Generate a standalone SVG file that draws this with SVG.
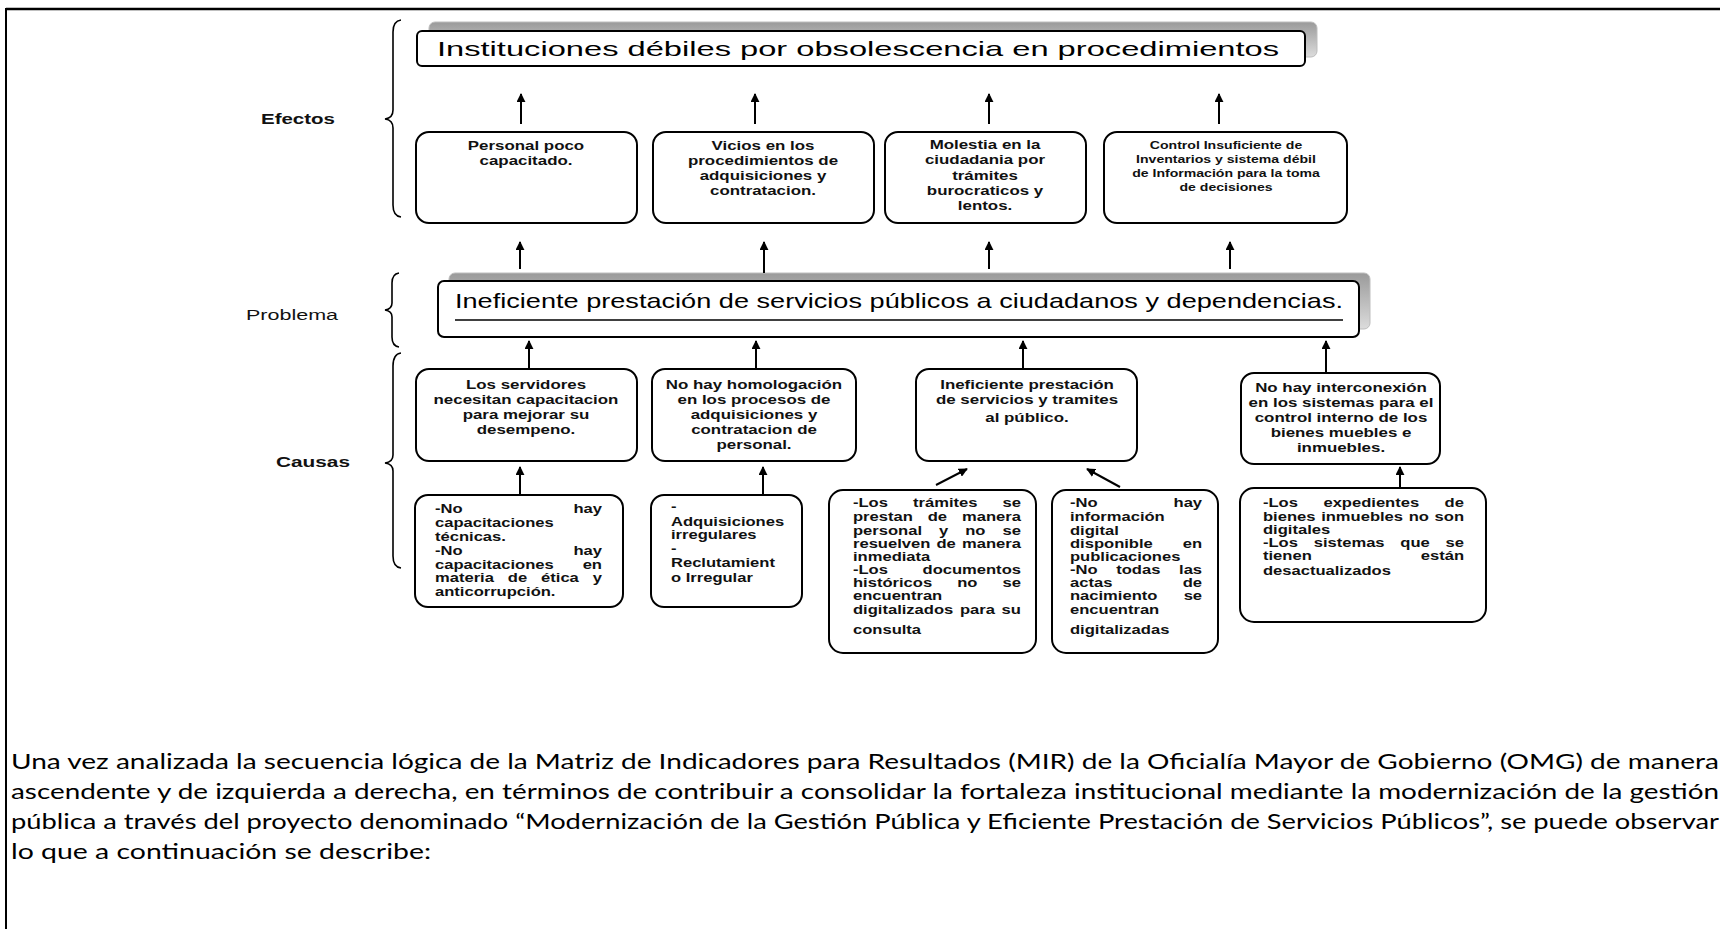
<svg xmlns="http://www.w3.org/2000/svg" width="1720" height="929" viewBox="0 0 1720 929">
<defs>
<marker id="ah" viewBox="0 0 10 10" markerUnits="userSpaceOnUse" markerWidth="9" markerHeight="9" refX="9" refY="5" orient="auto">
<path d="M0,0 L10,5 L0,10 z" fill="#000"/>
</marker>
<linearGradient id="sh" x1="0" y1="0" x2="0" y2="1">
<stop offset="0" stop-color="#9a9a9a"/>
<stop offset="1" stop-color="#dcdcdc"/>
</linearGradient>
<style>
.box{fill:#fff;stroke:#000;stroke-width:2}
.shadow{fill:url(#sh);stroke:#bdbdbd;stroke-width:1}
.con line{stroke:#000;stroke-width:2;marker-end:url(#ah)}
.brace{fill:none;stroke:#000;stroke-width:1.6}
.lbl{font-family:"Liberation Sans",Arial,sans-serif;font-size:15.5px;fill:#111}
.big{font-family:"Liberation Sans",Arial,sans-serif;font-size:21px;fill:#000}
.t{font-family:"Liberation Sans",Arial,sans-serif;font-weight:bold;font-size:13px;fill:#111;text-anchor:middle}
.ts{font-family:"Liberation Sans",Arial,sans-serif;font-weight:bold;font-size:11px;fill:#111;text-anchor:middle}
.j{font-family:"Liberation Sans",Arial,sans-serif;font-weight:bold;font-size:12px;fill:#111}
.e{text-anchor:end}
.p{font-family:Lato,"Open Sans",sans-serif;font-size:21px;fill:#000}
</style>
</defs>
<rect x="0" y="0" width="1720" height="929" fill="#fff"/>
<g id="frame">
<line x1="6" y1="9" x2="1720" y2="9" stroke="#000" stroke-width="2.5"/>
<line x1="6" y1="8" x2="6" y2="929" stroke="#000" stroke-width="2"/>
</g>

<g id="braces">
<path class="brace" d="M401,20 Q393,21 393,32 L393,110 Q393,118 385,119 Q393,120 393,128 L393,205 Q393,216 401,217"/>
<path class="brace" d="M399,273 Q392,274 392,283 L392,303 Q392,309 385,310 Q392,311 392,317 L392,337 Q392,346 399,347"/>
<path class="brace" d="M401,353 Q393,354 393,366 L393,455 Q393,462 385,463 Q393,464 393,471 L393,556 Q393,567 401,568"/>
</g>

<g id="labels">
<text class="lbl" x="261" y="124" font-weight="bold" textLength="74" lengthAdjust="spacingAndGlyphs">Efectos</text>
<text class="lbl" x="246" y="320" textLength="92" lengthAdjust="spacingAndGlyphs">Problema</text>
<text class="lbl" x="276" y="467" font-weight="bold" textLength="74" lengthAdjust="spacingAndGlyphs">Causas</text>
</g>

<g id="fin">
<rect class="shadow" x="429" y="22" width="888" height="35" rx="6"/>
<rect class="box" x="417" y="31" width="888" height="35" rx="5"/>
<text class="big" x="437" y="56" textLength="842" lengthAdjust="spacingAndGlyphs">Instituciones débiles por obsolescencia en procedimientos</text>
</g>

<g id="efecto1">
<rect class="box" x="416" y="132" width="221" height="91" rx="13"/>
<g transform="translate(526,0) scale(1.3,1)"><text class="t" x="0" y="150">Personal poco</text><text class="t" x="0" y="165">capacitado.</text></g>
</g>
<g id="efecto2">
<rect class="box" x="653" y="132" width="221" height="91" rx="13"/>
<g transform="translate(763,0) scale(1.3,1)"><text class="t" x="0" y="150">Vicios en los</text><text class="t" x="0" y="165">procedimientos de</text><text class="t" x="0" y="180">adquisiciones y</text><text class="t" x="0" y="195">contratacion.</text></g>
</g>
<g id="efecto3">
<rect class="box" x="885" y="132" width="201" height="91" rx="13"/>
<g transform="translate(985,0) scale(1.3,1)"><text class="t" x="0" y="149">Molestia en la</text><text class="t" x="0" y="164">ciudadania por</text><text class="t" x="0" y="180">trámites</text><text class="t" x="0" y="195">burocraticos y</text><text class="t" x="0" y="210">lentos.</text></g>
</g>
<g id="efecto4">
<rect class="box" x="1104" y="132" width="243" height="91" rx="13"/>
<g transform="translate(1226,0) scale(1.28,1)"><text class="ts" x="0" y="149">Control Insuficiente de</text><text class="ts" x="0" y="163">Inventarios y sistema débil</text><text class="ts" x="0" y="177">de Información para la toma</text><text class="ts" x="0" y="191">de decisiones</text></g>
</g>

<g id="problema">
<rect class="shadow" x="449" y="273" width="921" height="56" rx="6"/>
<rect class="box" x="438" y="281" width="921" height="56" rx="6"/>
<text class="big" x="455" y="308" font-size="20" textLength="888" lengthAdjust="spacingAndGlyphs">Ineficiente prestación de servicios públicos a ciudadanos y dependencias.</text>
<line x1="455" y1="320" x2="1343" y2="320" stroke="#000" stroke-width="1.5"/>
</g>

<g id="causa1">
<rect class="box" x="416" y="369" width="221" height="92" rx="13"/>
<g transform="translate(526,0) scale(1.3,1)"><text class="t" x="0" y="389">Los servidores</text><text class="t" x="0" y="404">necesitan capacitacion</text><text class="t" x="0" y="419">para mejorar su</text><text class="t" x="0" y="434">desempeno.</text></g>
</g>
<g id="causa2">
<rect class="box" x="652" y="369" width="204" height="92" rx="13"/>
<g transform="translate(754,0) scale(1.3,1)"><text class="t" x="0" y="389">No hay homologación</text><text class="t" x="0" y="404">en los procesos de</text><text class="t" x="0" y="419">adquisiciones y</text><text class="t" x="0" y="434">contratacion de</text><text class="t" x="0" y="449">personal.</text></g>
</g>
<g id="causa3">
<rect class="box" x="916" y="369" width="221" height="92" rx="13"/>
<g transform="translate(1027,0) scale(1.3,1)"><text class="t" x="0" y="389">Ineficiente prestación</text><text class="t" x="0" y="404">de servicios y tramites</text><text class="t" x="0" y="422">al público.</text></g>
</g>
<g id="causa4">
<rect class="box" x="1241" y="373" width="199" height="91" rx="13"/>
<g transform="translate(1341,0) scale(1.3,1)"><text class="t" x="0" y="392">No hay interconexión</text><text class="t" x="0" y="407">en los sistemas para el</text><text class="t" x="0" y="422">control interno de los</text><text class="t" x="0" y="437">bienes muebles e</text><text class="t" x="0" y="452">inmuebles.</text></g>
</g>

<g id="sub1">
<rect class="box" x="415" y="495" width="208" height="112" rx="13"/>
<g transform="translate(435,0) scale(1.38,1)">
<text class="j" x="0" y="513">-No</text><text class="j e" x="121" y="513">hay</text>
<text class="j" x="0" y="527">capacitaciones</text>
<text class="j" x="0" y="541">técnicas.</text>
<text class="j" x="0" y="555">-No</text><text class="j e" x="121" y="555">hay</text>
<text class="j" x="0" y="569">capacitaciones</text><text class="j e" x="121" y="569">en</text>
<text class="j" x="0" y="582" word-spacing="6.77">materia de ética y</text>
<text class="j" x="0" y="596">anticorrupción.</text>
</g>
</g>
<g id="sub2">
<rect class="box" x="651" y="495" width="151" height="112" rx="13"/>
<g transform="translate(671,0) scale(1.38,1)">
<text class="j" x="0" y="511">-</text>
<text class="j" x="0" y="526">Adquisiciones</text>
<text class="j" x="0" y="539">irregulares</text>
<text class="j" x="0" y="553">-</text>
<text class="j" x="0" y="567">Reclutamient</text>
<text class="j" x="0" y="582">o Irregular</text>
</g>
</g>
<g id="sub3">
<rect class="box" x="829" y="490" width="207" height="163" rx="14"/>
<g transform="translate(853,0) scale(1.38,1)">
<text class="j" x="0" y="507" word-spacing="14.85">-Los trámites se</text>
<text class="j" x="0" y="521" word-spacing="7.5">prestan de manera</text>
<text class="j" x="0" y="535" word-spacing="9">personal y no se</text>
<text class="j" x="0" y="548" word-spacing="1.15">resuelven de manera</text>
<text class="j" x="0" y="561">inmediata</text>
<text class="j" x="0" y="574">-Los</text><text class="j e" x="121.7" y="574">documentos</text>
<text class="j" x="0" y="587" word-spacing="14.85">históricos no se</text>
<text class="j" x="0" y="600">encuentran</text>
<text class="j" x="0" y="614" word-spacing="1.5">digitalizados para su</text>
<text class="j" x="0" y="634">consulta</text>
</g>
</g>
<g id="sub4">
<rect class="box" x="1052" y="490" width="166" height="163" rx="14"/>
<g transform="translate(1070,0) scale(1.38,1)">
<text class="j" x="0" y="507">-No</text><text class="j e" x="95.7" y="507">hay</text>
<text class="j" x="0" y="521">información</text>
<text class="j" x="0" y="535">digital</text>
<text class="j" x="0" y="548">disponible</text><text class="j e" x="95.7" y="548">en</text>
<text class="j" x="0" y="561">publicaciones</text>
<text class="j" x="0" y="574" word-spacing="10.2">-No todas las</text>
<text class="j" x="0" y="587">actas</text><text class="j e" x="95.7" y="587">de</text>
<text class="j" x="0" y="600">nacimiento</text><text class="j e" x="95.7" y="600">se</text>
<text class="j" x="0" y="614">encuentran</text>
<text class="j" x="0" y="634">digitalizadas</text>
</g>
</g>
<g id="sub5">
<rect class="box" x="1240" y="488" width="246" height="134" rx="14"/>
<g transform="translate(1263,0) scale(1.38,1)">
<text class="j" x="0" y="507" word-spacing="15.15">-Los expedientes de</text>
<text class="j" x="0" y="521" word-spacing="0.8">bienes inmuebles no son</text>
<text class="j" x="0" y="534">digitales</text>
<text class="j" x="0" y="547" word-spacing="8.1">-Los sistemas que se</text>
<text class="j" x="0" y="560">tienen</text><text class="j e" x="145.7" y="560">están</text>
<text class="j" x="0" y="575">desactualizados</text>
</g>
</g>

<g id="connectors" class="con">
<line x1="521" y1="124" x2="521" y2="94"/>
<line x1="755" y1="124" x2="755" y2="94"/>
<line x1="989" y1="124" x2="989" y2="94"/>
<line x1="1219" y1="124" x2="1219" y2="94"/>
<line x1="520" y1="269" x2="520" y2="242"/>
<line x1="764" y1="273" x2="764" y2="242"/>
<line x1="989" y1="269" x2="989" y2="242"/>
<line x1="1230" y1="269" x2="1230" y2="242"/>
<line x1="529" y1="369" x2="529" y2="341"/>
<line x1="756" y1="369" x2="756" y2="341"/>
<line x1="1023" y1="369" x2="1023" y2="341"/>
<line x1="1326" y1="373" x2="1326" y2="341"/>
<line x1="520" y1="495" x2="520" y2="467"/>
<line x1="763" y1="495" x2="763" y2="467"/>
<line x1="936" y1="485" x2="967" y2="469"/>
<line x1="1120" y1="487" x2="1087" y2="469"/>
<line x1="1400" y1="488" x2="1400" y2="467"/>
</g>

<g id="paragraph">
<text class="p" x="11" y="769" textLength="1708" lengthAdjust="spacingAndGlyphs">Una vez analizada la secuencia lógica de la Matriz de Indicadores para Resultados (MIR) de la Oficialía Mayor de Gobierno (OMG) de manera</text>
<text class="p" x="11" y="799" textLength="1708" lengthAdjust="spacingAndGlyphs">ascendente y de izquierda a derecha, en términos de contribuir a consolidar la fortaleza institucional mediante la modernización de la gestión</text>
<text class="p" x="11" y="829" textLength="1708" lengthAdjust="spacingAndGlyphs">pública a través del proyecto denominado “Modernización de la Gestión Pública y Eficiente Prestación de Servicios Públicos”, se puede observar</text>
<text class="p" x="11" y="859" textLength="420" lengthAdjust="spacingAndGlyphs">lo que a continuación se describe:</text>
</g>
</svg>
